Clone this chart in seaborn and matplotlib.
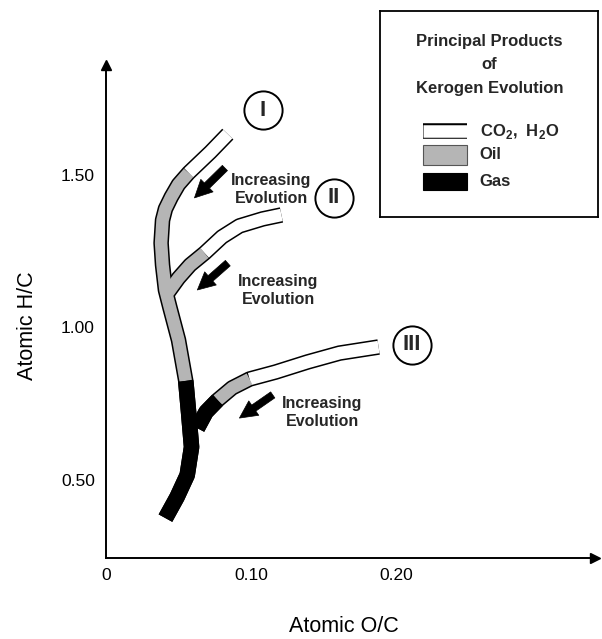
import pandas as pd
import matplotlib.pyplot as plt
import seaborn as sns
from matplotlib.patches import Rectangle

# Trajetórias de evolução do querogênio (O/C atômico, H/C atômico)
tipo1_oc = [0.084, 0.072, 0.057, 0.050, 0.045, 0.041, 0.039, 0.038, 0.039, 0.041,
            0.044, 0.050, 0.055, 0.057, 0.059, 0.056, 0.049, 0.041]
tipo1_hc = [1.634, 1.575, 1.507, 1.469, 1.428, 1.389, 1.352, 1.277, 1.205, 1.123,
            1.067, 0.959, 0.825, 0.720, 0.608, 0.516, 0.444, 0.375]
tipo1_produto = ['CO2', 'CO2', 'Oil', 'Oil', 'Oil', 'Oil', 'Oil', 'Oil', 'Oil', 'Oil',
                 'Oil', 'Oil', 'Gas', 'Gas', 'Gas', 'Gas', 'Gas', 'Gas']

tipo2_oc = [0.121, 0.108, 0.092, 0.080, 0.068, 0.058, 0.050, 0.043]
tipo2_hc = [1.369, 1.356, 1.333, 1.297, 1.244, 1.205, 1.162, 1.116]
tipo2_produto = ['CO2', 'CO2', 'CO2', 'CO2', 'Oil', 'Oil', 'Oil', 'Oil']

tipo3_oc = [0.188, 0.161, 0.139, 0.117, 0.099, 0.087, 0.077, 0.069, 0.063]
tipo3_hc = [0.936, 0.916, 0.887, 0.854, 0.831, 0.802, 0.762, 0.723, 0.670]
tipo3_produto = ['CO2', 'CO2', 'CO2', 'CO2', 'Oil', 'Oil', 'Gas', 'Gas', 'Gas']

tipos = ['I', 'II', 'III']

# rótulos (posição dos círculos e das setas "Increasing Evolution")
numeral_oc = [0.108, 0.157, 0.211]
numeral_hc = [1.713, 1.425, 0.943]
texto_oc = [0.114, 0.119, 0.149]
texto_hc = [1.452, 1.120, 0.722]
seta_base = [(0.082, 1.523), (0.084, 1.211), (0.115, 0.779)]
seta_ponta = [(0.061, 1.425), (0.063, 1.123), (0.092, 0.703)]

xticks = [0, 0.10, 0.20]
xtick_labels = ['0', '0.10', '0.20']
yticks = [0.50, 1.00, 1.50]
ytick_labels = ['0.50', '1.00', '1.50']

cores = {'CO2': 'white', 'Oil': '#b5b5b5', 'Gas': 'black'}
LARGURA = 11.2  # largura total da faixa (pt)
MIOLO = 9.0     # largura do preenchimento (pt)


def montar_dados():
    partes = []
    for t, oc, hc, prod in [('I', tipo1_oc, tipo1_hc, tipo1_produto),
                            ('II', tipo2_oc, tipo2_hc, tipo2_produto),
                            ('III', tipo3_oc, tipo3_hc, tipo3_produto)]:
        partes.append(pd.DataFrame({'tipo': t, 'oc': oc, 'hc': hc, 'produto': prod}))
    return pd.concat(partes, ignore_index=True)


def segmentos(df):
    """Divide uma trajetória em trechos por produto (compartilhando o ponto de transição)."""
    prods = df['produto'].tolist()
    out = []
    ini = 0
    for i in range(1, len(prods) + 1):
        if i == len(prods) or prods[i] != prods[ini]:
            fim = min(i, len(prods) - 1)
            out.append((prods[ini], df.iloc[ini:fim + 1]))
            ini = i
    return out


sns.set_theme(style='white')
plt.rcParams['font.family'] = ['Liberation Sans', 'DejaVu Sans']
plt.rcParams['mathtext.fontset'] = 'custom'
plt.rcParams['mathtext.rm'] = 'Liberation Sans'
plt.rcParams['mathtext.bf'] = 'Liberation Sans:bold'

df = montar_dados()

fig = plt.figure(figsize=(6.02, 6.39), dpi=100)
ax = fig.add_axes([106 / 602, 1 - 558 / 639, (595 - 106) / 602, (558 - 65) / 639])
ax.set_xlim(0, (595 - 106) / 1450)
ax.set_ylim(0.5 - 78 / 305, 1.5 + 110 / 305)

# contorno preto de todas as faixas primeiro, depois o preenchimento
for t in tipos:
    sub = df[df['tipo'] == t]
    sns.lineplot(data=sub, x='oc', y='hc', sort=False, estimator=None, color='black',
                 lw=LARGURA, solid_capstyle='butt', solid_joinstyle='round',
                 legend=False, ax=ax, zorder=2)
for t in tipos:
    sub = df[df['tipo'] == t]
    for prod, seg in segmentos(sub):
        sns.lineplot(data=seg, x='oc', y='hc', sort=False, estimator=None,
                     color=cores[prod], lw=LARGURA if prod == 'Gas' else MIOLO,
                     solid_capstyle='butt', solid_joinstyle='round',
                     legend=False, ax=ax, zorder=3)

# círculos com numerais romanos
for t, x, y in zip(tipos, numeral_oc, numeral_hc):
    ax.plot(x, y, 'o', ms=27.5, mfc='white', mec='black', mew=1.4, zorder=4)
    ax.text(x, y, t, ha='center', va='center', fontsize=16, fontweight='bold', zorder=5)

for x, y, base, ponta in zip(texto_oc, texto_hc, seta_base, seta_ponta):
    ax.text(x, y, 'Increasing\nEvolution', ha='center', va='center', fontsize=11.5,
            fontweight='bold', linespacing=1.25, zorder=5)
    ax.annotate('', xy=ponta, xytext=base,
                arrowprops=dict(arrowstyle='simple,head_length=0.6,head_width=0.6,tail_width=0.25',
                                mutation_scale=21, fc='black', ec='black', lw=0.5,
                                shrinkA=0, shrinkB=0), zorder=5)

# eixos
for lado in ['top', 'right']:
    ax.spines[lado].set_visible(False)
for lado in ['left', 'bottom']:
    ax.spines[lado].set_color('black')
    ax.spines[lado].set_linewidth(1.4)
ax.plot(1, 0, '>', color='black', ms=7, transform=ax.transAxes, clip_on=False)
ax.plot(0, 1, '^', color='black', ms=7, transform=ax.transAxes, clip_on=False)

ax.set_xticks(xticks)
ax.set_xticklabels(xtick_labels)
ax.set_yticks(yticks)
ax.set_yticklabels(ytick_labels)
ax.tick_params(direction='in', length=7, width=1.2, colors='black', labelsize=12.5)
ax.tick_params(axis='x', pad=7)
ax.tick_params(axis='y', pad=8)

ax.set_xlabel('Atomic O/C', fontsize=15.5, color='black')
ax.set_ylabel('Atomic H/C', fontsize=15.5, color='black')
ax.xaxis.set_label_coords(0.487, -0.118)
ax.yaxis.set_label_coords(-0.14, 0.472)

# caixa de legenda
leg = fig.add_axes([380 / 602, 1 - 217 / 639, 218 / 602, 206 / 639], zorder=10)
leg.set_xlim(0, 1)
leg.set_ylim(0, 1)
leg.set_xticks([])
leg.set_yticks([])
leg.set_facecolor('white')
for s in leg.spines.values():
    s.set_color('black')
    s.set_linewidth(1.3)
for texto, yy in [('Principal Products', 0.850), ('of', 0.738), ('Kerogen Evolution', 0.626)]:
    leg.text(0.502, yy, texto, ha='center', va='center', fontsize=12, fontweight='bold')

leg.plot([0.196, 0.397], [0.417, 0.417], color='black', lw=LARGURA, solid_capstyle='butt')
leg.plot([0.196, 0.397], [0.417, 0.417], color='white', lw=MIOLO, solid_capstyle='butt')
leg.add_patch(Rectangle((0.196, 0.252), 0.201, 0.098, fc=cores['Oil'], ec='#555555', lw=0.8))
leg.add_patch(Rectangle((0.196, 0.131), 0.201, 0.083, fc=cores['Gas'], ec='black', lw=0.8))
leg.text(0.457, 0.417, r'CO$_\mathbf{2}$,  H$_\mathbf{2}$O', ha='left', va='center',
         fontsize=12, fontweight='bold')
leg.text(0.457, 0.301, 'Oil', ha='left', va='center', fontsize=12, fontweight='bold')
leg.text(0.457, 0.170, 'Gas', ha='left', va='center', fontsize=12, fontweight='bold')

fig.savefig('out.png', dpi=100)
plt.close(fig)
